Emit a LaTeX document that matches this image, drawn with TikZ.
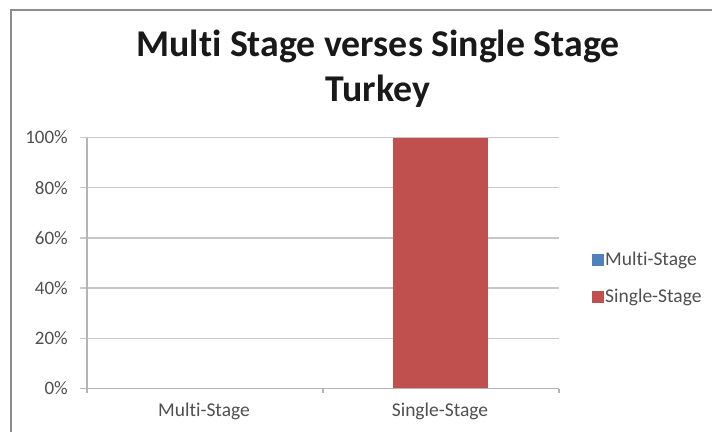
\documentclass[tikz,border=0pt]{standalone}
\usepackage{fontspec}
\setmainfont{Carlito}[Ligatures=NoCommon]
\definecolor{barred}{HTML}{C0504D}
\definecolor{barblue}{HTML}{4F81BD}
\definecolor{gridc}{HTML}{C8C8C8}
\definecolor{axisc}{HTML}{B4B4B4}
\definecolor{labc}{HTML}{505050}
\definecolor{framec}{HTML}{8C8C8C}
\tikzset{
  gridline/.style={draw=gridc, line width=1.3pt},
  axisline/.style={draw=axisc, line width=1.3pt},
  ticklab/.style={anchor=east, inner sep=0pt, text=labc, font=\fontsize{19}{22}\selectfont},
  catlab/.style={anchor=center, inner sep=0pt, text=labc, font=\fontsize{19.5}{22}\selectfont},
  leglab/.style={anchor=west, inner sep=0pt, text=labc, font=\fontsize{19.5}{22}\selectfont},
  titlelab/.style={anchor=center, inner sep=0pt, align=center, text=black!90, font=\bfseries\fontsize{37.8}{45}\selectfont},
}
\begin{document}
\begin{tikzpicture}[x=1pt,y=-1pt]
\useasboundingbox (0,0) rectangle (712,432);
\fill[white] (0,0) rectangle (712,432);
% frame
\draw[framec, line width=1.3pt] (11,432) -- (11,10) -- (712,10);
% title
\node[titlelab] (title) at (378,69) {Multi Stage verses Single Stage\\Turkey};
% gridlines and tick labels
\foreach \v/\yy in {100/137.5,80/187.7,60/237.9,40/288.1,20/338.3} {
  \draw[gridline] (80,\yy) -- (559,\yy);
  \node[ticklab] (t\v) at (68,\yy) {\v\%};
}
\node[ticklab] (t0) at (68,388.5) {0\%};
% bar
\fill[barred] (393,137.5) rectangle (488,388.5);
% axes
\draw[axisline] (87,137.5) -- (87,393);
\draw[axisline] (80,388.5) -- (559,388.5);
\draw[axisline] (323,388.5) -- (323,393);
\draw[axisline] (559,388.5) -- (559,393);
% category labels
\node[catlab] (c1) at (204,411) {Multi-Stage};
\node[catlab] (c2) at (440,411) {Single-Stage};
% legend
\fill[barblue] (592,253.5) rectangle (604,265.5);
\node[leglab] (l1) at (605,260) {Multi-Stage};
\fill[barred] (592,290.5) rectangle (604,302.5);
\node[leglab] (l2) at (605,297) {Single-Stage};
\end{tikzpicture}
\end{document}
